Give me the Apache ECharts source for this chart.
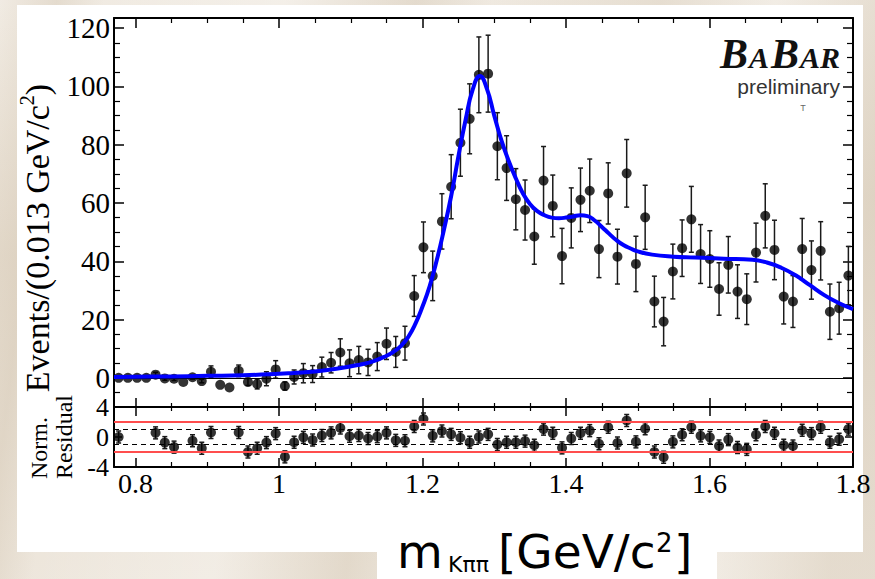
<!DOCTYPE html>
<html>
<head>
<meta charset="utf-8">
<script src="https://cdn.jsdelivr.net/npm/echarts@6/dist/echarts.min.js"></script>
<style>
  html, body { margin: 0; padding: 0; }
  body {
    width: 875px; height: 579px; overflow: hidden; position: relative;
    background-color: #ebe3d7;
    background-image:
      linear-gradient(97deg, rgba(255,255,255,0) 0%, rgba(205,190,168,0.35) 6%, rgba(255,255,255,0) 11%,
        rgba(255,255,255,0.25) 30%, rgba(200,184,160,0.3) 44%, rgba(255,255,255,0) 52%,
        rgba(210,196,175,0.3) 70%, rgba(255,255,255,0.2) 82%, rgba(205,190,168,0.3) 95%),
      linear-gradient(176deg, rgba(255,255,255,0.3) 0%, rgba(214,200,180,0.25) 40%, rgba(255,255,255,0.2) 100%);
  }
  #panel { position: absolute; left: 17px; top: 5px; width: 846px; height: 547px; background: #fff; }
  #xbox { position: absolute; left: 377px; top: 505px; width: 340px; height: 74px; background: #fff; }
  #chart { position: absolute; left: 0; top: 0; width: 875px; height: 579px; }
</style>
</head>
<body>
<div id="panel"></div>
<div id="xbox"></div>
<div id="chart"></div>
<script>
// binning of the histogram: 80 bins, 0.77 - 1.8 GeV/c^2
const binLow = 0.77;
const binHigh = 1.8;
const nBins = 80;

// events per bin (sWeighted, can go negative)
const events = [
  0, 0, 0, 0, 1.1, -0.2, -0.3, -1.4, 0.2, -1.1,
  2.1, -2.4, -3.3, 2.4, -1.4, -2.1, -0.3, 2.9, -2.8, 0.3,
  1.6, 1.3, 3.7, 5.2, 8.7, 5.0, 6.1, 5.3, 7.3, 11.7,
  8.9, 11.9, 28.1, 44.8, 35.0, 53.7, 65.6, 80.7, 88.9, 104.0,
  104.4, 79.5, 72.0, 61.3, 57.6, 48.5, 67.7, 59.0, 41.8, 54.9,
  61.1, 64.2, 44.2, 63.3, 41.6, 70.2, 39.1, 55.1, 26.2, 19.3,
  36.5, 44.5, 54.4, 42.5, 40.8, 30.5, 38.8, 29.6, 27.0, 43.0,
  55.6, 43.9, 27.9, 26.2, 44.2, 37.0, 43.6, 22.7, 23.9, 35.1
];
const eventErr = [
  0, 0, 0, 0, 0.8, 0.6, 0.6, 0, 0.6, 0.6,
  2.0, 0, 0, 2.0, 1.2, 1.7, 2.4, 3.0, 1.4, 2.4,
  3.3, 2.9, 3.4, 3.5, 4.7, 4.6, 4.7, 4.5, 4.8, 5.4,
  5.3, 5.8, 7.0, 8.7, 8.5, 9.5, 11.0, 11.5, 12.0, 13.0,
  13.2, 11.5, 11.1, 10.5, 10.3, 9.5, 11.7, 10.6, 9.5, 10.3,
  10.9, 10.9, 9.8, 10.5, 9.4, 11.6, 9.5, 11.0, 8.7, 8.3,
  9.4, 9.7, 11.3, 10.1, 9.7, 9.0, 9.7, 9.2, 8.7, 10.1,
  11.0, 10.2, 9.4, 8.9, 10.5, 10.0, 10.0, 9.5, 8.9, 10.0
];

// normalised residuals, null = bin not shown
const residuals = [
  0.0, null, null, null, 0.55, -0.75, -1.35, null, -0.5, -1.5,
  0.6, null, null, 0.6, -2.0, -1.5, -0.75, 0.45, -2.65, -0.7,
  -0.05, -0.4, 0.2, 0.55, 1.2, 0.1, 0.2, -0.2, 0.05, 0.55,
  -0.45, -0.5, 1.4, 2.4, 0.15, 0.8, 0.35, -0.1, -0.7, 0.0,
  0.35, -1.0, -0.7, -0.7, -0.55, -1.1, 1.05, 0.5, -1.45, -0.2,
  0.5, 0.85, -0.9, 1.3, -0.8, 2.2, -0.65, 1.1, -2.0, -2.7,
  -0.65, 0.3, 1.3, 0.15, -0.05, -1.2, -0.35, -1.4, -1.65, 0.3,
  1.4, 0.5, -1.1, -1.2, 0.9, 0.45, 1.3, -0.7, -0.3, 1.05
];
const residErr = 0.8;

// fit curve
const fitMass = [
  0.77, 0.80, 0.85, 0.90, 0.95, 1.00, 1.02, 1.05, 1.08, 1.11,
  1.13, 1.15, 1.16, 1.17, 1.18, 1.19, 1.20, 1.21, 1.22, 1.23,
  1.24, 1.25, 1.26, 1.27, 1.28, 1.29, 1.30, 1.31, 1.32, 1.33,
  1.34, 1.35, 1.36, 1.37, 1.38, 1.39, 1.40, 1.41, 1.42, 1.43,
  1.44, 1.45, 1.46, 1.47, 1.48, 1.49, 1.50, 1.52, 1.55, 1.58,
  1.62, 1.66, 1.68, 1.70, 1.72, 1.74, 1.76, 1.78, 1.80
];
const fitValue = [
  0.3, 0.4, 0.5, 0.7, 0.9, 1.4, 1.7, 2.2, 3.1, 4.4,
  5.6, 7.6, 9.0, 11.0, 14.0, 18.5, 24.5, 31.5, 40.5, 51.0,
  62.5, 76.0, 88.5, 99.0, 103.6, 99.0, 90.0, 81.5, 74.5, 68.5,
  63.3, 59.6, 57.2, 55.8, 55.0, 54.8, 55.0, 55.4, 55.8, 55.5,
  54.0, 51.8, 49.5, 47.3, 45.6, 44.4, 43.4, 42.3, 41.6, 41.3,
  40.9, 40.5, 39.6, 37.8, 35.2, 31.8, 28.4, 25.7, 23.6
];

const mainYMin = -10;
const mainYMax = 123.5;

const binWidth = (binHigh - binLow) / nBins;
const center = i => binLow + (i + 0.5) * binWidth;

const serif = "'Liberation Serif', 'Times New Roman', serif";
const sans = "'DejaVu Sans', sans-serif";
const black = '#000';

const pointData = events.map((v, i) => [center(i), v]);
const errData = [];
events.forEach((v, i) => {
  if (eventErr[i] > 0) errData.push([center(i), v - eventErr[i], v + eventErr[i]]);
});
const resPoints = [];
const resErrData = [];
residuals.forEach((r, i) => {
  if (r === null) return;
  resPoints.push([center(i), r]);
  resErrData.push([center(i), r - residErr, r + residErr]);
});

function errorBars(xi, yi, data, cap) {
  return {
    type: 'custom',
    xAxisIndex: xi,
    yAxisIndex: yi,
    data: data,
    encode: { x: 0, y: [1, 2] },
    z: 3,
    silent: true,
    renderItem: function (params, api) {
      const x = api.value(0);
      const lo = api.coord([x, api.value(1)]);
      const hi = api.coord([x, api.value(2)]);
      const st = { stroke: '#1a1a1a', lineWidth: 1.5 };
      return {
        type: 'group',
        children: [
          { type: 'line', shape: { x1: lo[0], y1: lo[1], x2: hi[0], y2: hi[1] }, style: st },
          { type: 'line', shape: { x1: hi[0] - cap, y1: hi[1], x2: hi[0] + cap, y2: hi[1] }, style: st },
          { type: 'line', shape: { x1: lo[0] - cap, y1: lo[1], x2: lo[0] + cap, y2: lo[1] }, style: st }
        ]
      };
    }
  };
}

function xAxis(grid, pos, major, minor, labels) {
  return {
    type: 'value', gridIndex: grid, position: pos,
    min: binLow, max: binHigh,
    axisLine: { show: true, onZero: false, lineStyle: { color: black, width: 2 } },
    axisTick: { show: true, inside: true, length: major, lineStyle: { color: black, width: 1.5 } },
    minorTick: { show: true, splitNumber: 4, length: minor, lineStyle: { color: black, width: 1.2 } },
    splitLine: { show: false },
    minorSplitLine: { show: false },
    axisLabel: labels ? {
      show: true, showMinLabel: false, margin: 2,
      fontFamily: serif, fontSize: 28, color: black,
      formatter: v => String(Math.round(v * 10) / 10)
    } : { show: false }
  };
}

function yAxis(grid, pos, min, max, extra, labels) {
  return Object.assign({
    type: 'value', gridIndex: grid, position: pos, min: min, max: max,
    axisLine: { show: true, lineStyle: { color: black, width: 2 } },
    splitLine: { show: false },
    axisLabel: labels || { show: false }
  }, extra);
}

const mainTicks = {
  splitNumber: 7,
  axisTick: { show: true, inside: true, length: 10, lineStyle: { color: black, width: 1.5 } },
  minorTick: { show: true, splitNumber: 4, length: 6, lineStyle: { color: black, width: 1.2 } }
};
const resTicks = {
  interval: 4,
  axisTick: { show: true, inside: true, length: 8, lineStyle: { color: black, width: 1.5 } }
};

const chart = echarts.init(document.getElementById('chart'), null, { renderer: 'svg' });

chart.setOption({
  animation: false,
  backgroundColor: 'transparent',
  grid: [
    { left: 114, top: 18, width: 739, height: 389, show: false, containLabel: false },
    { left: 114, top: 407, width: 739, height: 60, show: false, containLabel: false }
  ],
  xAxis: [
    xAxis(0, 'bottom', 9, 4, false),
    xAxis(0, 'top', 10, 5, false),
    xAxis(1, 'bottom', 9, 5, true),
    xAxis(1, 'top', 9, 4, false)
  ],
  yAxis: [
    yAxis(0, 'left', mainYMin, mainYMax, mainTicks, {
      show: true, showMinLabel: false, showMaxLabel: false, margin: 4,
      fontFamily: serif, fontSize: 29, color: black
    }),
    yAxis(0, 'right', mainYMin, mainYMax, mainTicks),
    yAxis(1, 'left', -4, 4, resTicks, {
      show: true, margin: 5, fontFamily: serif, fontSize: 26, color: black
    }),
    yAxis(1, 'right', -4, 4, resTicks)
  ],
  series: [
    errorBars(0, 0, errData, 2.5),
    {
      type: 'scatter', xAxisIndex: 0, yAxisIndex: 0,
      data: pointData, symbol: 'circle', symbolSize: 10,
      itemStyle: { color: black }, z: 4, silent: true,
      markLine: {
        silent: true, symbol: 'none', label: { show: false },
        lineStyle: { color: black, width: 1, type: 'solid' },
        data: [{ yAxis: 0 }]
      }
    },
    {
      type: 'line', xAxisIndex: 0, yAxisIndex: 0,
      data: fitMass.map((m, i) => [m, fitValue[i]]),
      smooth: 0.5, showSymbol: false, silent: true,
      lineStyle: { color: '#0000ff', width: 4 }, z: 5
    },
    errorBars(2, 2, resErrData, 2.5),
    {
      type: 'scatter', xAxisIndex: 2, yAxisIndex: 2,
      data: resPoints, symbol: 'circle', symbolSize: 10,
      itemStyle: { color: black }, z: 4, silent: true,
      markLine: {
        silent: true, symbol: 'none', label: { show: false },
        data: [
          { yAxis: 2, lineStyle: { color: '#ff4d4d', width: 2, type: 'solid' } },
          { yAxis: -2, lineStyle: { color: '#ff4d4d', width: 2, type: 'solid' } },
          { yAxis: 1, lineStyle: { color: black, width: 1.2, type: [5, 4] } },
          { yAxis: -1, lineStyle: { color: black, width: 1.2, type: [5, 4] } }
        ]
      }
    }
  ],
  graphic: [
    {
      type: 'text', x: 37, y: 238, rotation: Math.PI / 2,
      style: {
        text: '{a|Events/(0.013 GeV/c}{s|2}{a|)}',
        align: 'center', verticalAlign: 'middle', fill: black,
        rich: {
          a: { fontFamily: serif, fontSize: 34, lineHeight: 40, fill: black },
          s: { fontFamily: serif, fontSize: 20, lineHeight: 22, verticalAlign: 'top', fill: black }
        }
      }
    },
    {
      type: 'text', x: 51, y: 479, rotation: Math.PI / 2,
      style: {
        text: 'Norm.\nResidual', align: 'left', verticalAlign: 'middle',
        fontFamily: serif, fontSize: 24, lineHeight: 25, fill: black
      }
    },
    // BaBar logo
    { type: 'text', x: 720, y: 75, style: { text: 'B', fontFamily: serif, fontStyle: 'italic', fontWeight: 'bold', fontSize: 42, verticalAlign: 'bottom', fill: '#111' } },
    { type: 'text', x: 749, y: 72, style: { text: 'A', fontFamily: serif, fontStyle: 'italic', fontWeight: 'bold', fontSize: 30, verticalAlign: 'bottom', fill: '#111' } },
    { type: 'text', x: 771, y: 75, style: { text: 'B', fontFamily: serif, fontStyle: 'italic', fontWeight: 'bold', fontSize: 42, verticalAlign: 'bottom', fill: '#111' } },
    { type: 'text', x: 800, y: 72, style: { text: 'AR', fontFamily: serif, fontStyle: 'italic', fontWeight: 'bold', fontSize: 30, verticalAlign: 'bottom', fill: '#111' } },
    { type: 'text', x: 840, y: 97, style: { text: 'preliminary', fontFamily: "'Liberation Sans', Arial, sans-serif", fontSize: 21, align: 'right', verticalAlign: 'bottom', fill: '#333' } },
    { type: 'text', x: 803, y: 108, style: { text: 'T', fontFamily: "'Liberation Sans', Arial, sans-serif", fontSize: 9, align: 'center', verticalAlign: 'middle', fill: '#666' } },
    // x-axis title
    { type: 'text', x: 397, y: 551, style: { text: 'm', fontFamily: sans, fontSize: 47, verticalAlign: 'middle', fill: black } },
    { type: 'text', x: 448, y: 564, style: { text: 'Kππ', fontFamily: sans, fontSize: 22, verticalAlign: 'middle', fill: black } },
    { type: 'text', x: 498, y: 551, style: { text: '[GeV/c', fontFamily: sans, fontSize: 47, verticalAlign: 'middle', fill: black } },
    { type: 'text', x: 656, y: 543, style: { text: '2', fontFamily: sans, fontSize: 26, verticalAlign: 'middle', fill: black } },
    { type: 'text', x: 674, y: 551, style: { text: ']', fontFamily: sans, fontSize: 47, verticalAlign: 'middle', fill: black } }
  ]
});
</script>
</body>
</html>
